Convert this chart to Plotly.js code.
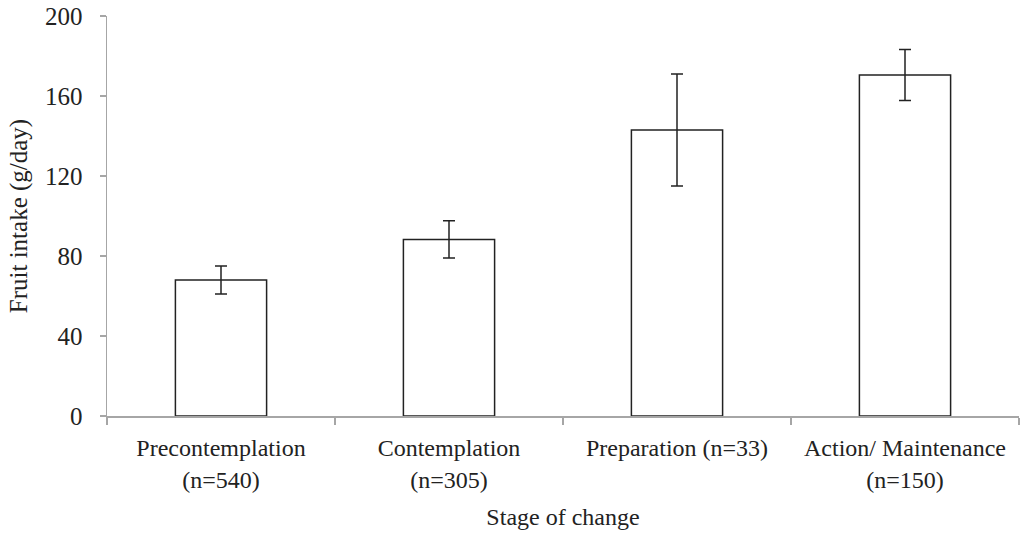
<!DOCTYPE html>
<html>
<head>
<meta charset="utf-8">
<script src="https://cdn.plot.ly/plotly-3.0.1.min.js"></script>
<style>html,body{margin:0;padding:0;background:#fff;}#chart{width:1020px;height:533px;}</style>
</head>
<body>
<div id="chart"></div>
<script>
const categories = ["Precontemplation<br>(n=540)", "Contemplation<br>(n=305)", "Preparation (n=33)", "Action/ Maintenance<br>(n=150)"];
const fruitIntake = [68, 88.3, 143, 170.5];
const errorValues = [7, 9.3, 28, 12.8];
const yTicks = [0, 40, 80, 120, 160, 200];

const font = "Liberation Serif, Times New Roman, serif";
const trace = {
  type: "bar",
  x: categories,
  y: fruitIntake,
  marker: {color: "#ffffff", line: {color: "#222222", width: 1.5}},
  error_y: {type: "data", array: errorValues, visible: true, color: "#222222", thickness: 1.5, width: 6},
  hoverinfo: "none"
};
const layout = {
  width: 1020, height: 533,
  margin: {l: 107, r: 1, t: 16, b: 117},
  paper_bgcolor: "#ffffff", plot_bgcolor: "#ffffff",
  showlegend: false,
  bargap: 0.6,
  font: {family: font, size: 24, color: "#222222"},
  xaxis: {
    showline: true, linecolor: "#a6a6a6", linewidth: 1.5,
    ticks: "outside", tickson: "boundaries", ticklen: 7, tickcolor: "#a6a6a6", tickwidth: 1.5,
    ticklabelstandoff: 10,
    tickfont: {family: font, size: 24, color: "#222222"},
    title: {text: "Stage of change", font: {family: font, size: 24, color: "#222222"}, standoff: 16},
    showgrid: false, zeroline: false
  },
  yaxis: {
    range: [0, 200], tickvals: yTicks, ticktext: yTicks.map(String),
    showline: true, linecolor: "#a6a6a6", linewidth: 1.5,
    ticks: "outside", ticklen: 6, tickcolor: "#a6a6a6", tickwidth: 1.5,
    ticklabelstandoff: 12,
    tickfont: {family: font, size: 25, color: "#222222"},
    title: {text: "Fruit intake (g/day)", font: {family: font, size: 25, color: "#222222"}, standoff: 10},
    showgrid: false, zeroline: false
  }
};
Plotly.newPlot("chart", [trace], layout, {displayModeBar: false, staticPlot: true});
</script>
</body>
</html>
